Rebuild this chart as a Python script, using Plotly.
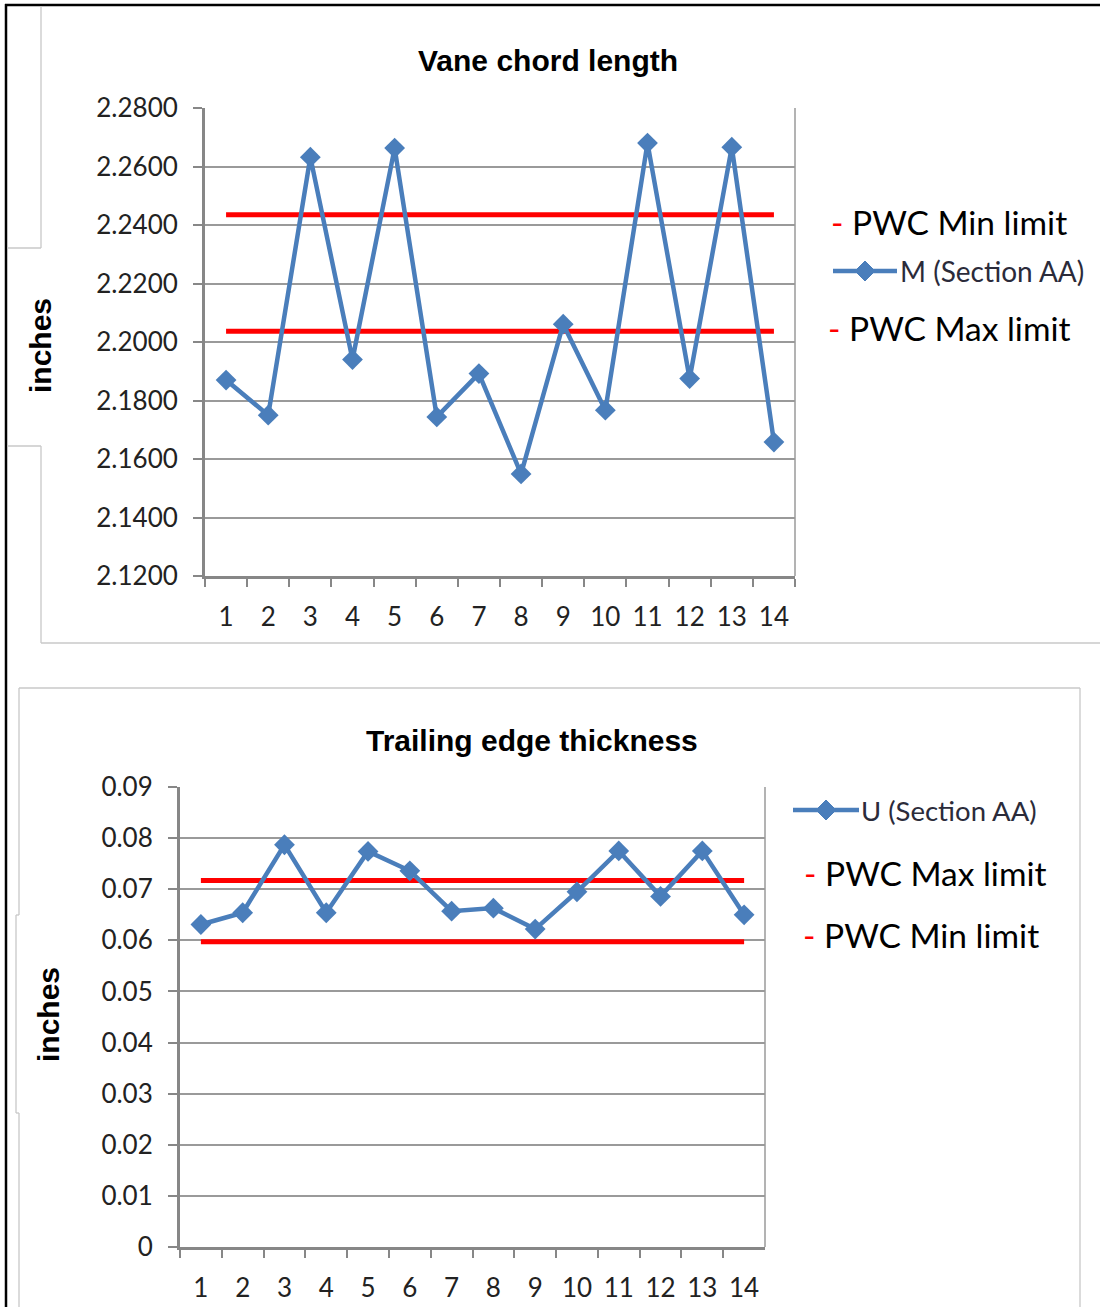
import plotly.graph_objects as go

W, H = 1100, 1307

# ---------------- data ----------------
samples = [str(i) for i in range(1, 15)]

chord_M = [2.1870, 2.1750, 2.2632, 2.1940, 2.2663, 2.1744, 2.1892,
           2.1549, 2.2061, 2.1767, 2.2680, 2.1875, 2.2666, 2.1658]
chord_min_limit = 2.2435
chord_max_limit = 2.2037
chord_ticks = [2.12, 2.14, 2.16, 2.18, 2.20, 2.22, 2.24, 2.26, 2.28]

te_U = [0.0631, 0.0654, 0.0787, 0.0654, 0.0774, 0.0736, 0.0657,
        0.0663, 0.0622, 0.0695, 0.0775, 0.0686, 0.0775, 0.0650]
te_max_limit = 0.0717
te_min_limit = 0.0597
te_ticks = [0, 0.01, 0.02, 0.03, 0.04, 0.05, 0.06, 0.07, 0.08, 0.09]
te_ticktext = ["0", "0.01", "0.02", "0.03", "0.04", "0.05", "0.06", "0.07", "0.08", "0.09"]

# ---------------- styles ----------------
BLUE = "#4a7ebb"
RED = "#ff0000"
GRID = "#9a9a9a"
AXIS = "#878787"
TXT = "#222222"
TICKFONT = dict(family="Lato", size=26, color=TXT)


def px(x):
    return x / W


def py(y):
    return 1 - y / H


fig = go.Figure()

# top chart (x, y)
fig.add_trace(go.Scatter(x=samples, y=[chord_min_limit] * len(samples), mode="lines",
                         line=dict(color=RED, width=5), xaxis="x", yaxis="y",
                         showlegend=False, name="PWC Min limit"))
fig.add_trace(go.Scatter(x=samples, y=[chord_max_limit] * len(samples), mode="lines",
                         line=dict(color=RED, width=5), xaxis="x", yaxis="y",
                         showlegend=False, name="PWC Max limit"))
fig.add_trace(go.Scatter(x=samples, y=chord_M, mode="lines+markers",
                         line=dict(color=BLUE, width=4.5),
                         marker=dict(symbol="diamond", size=16, color=BLUE),
                         xaxis="x", yaxis="y", showlegend=False, name="M (Section AA)"))

# bottom chart (x2, y2)
fig.add_trace(go.Scatter(x=samples, y=[te_max_limit] * len(samples), mode="lines",
                         line=dict(color=RED, width=5), xaxis="x2", yaxis="y2",
                         showlegend=False, name="PWC Max limit"))
fig.add_trace(go.Scatter(x=samples, y=[te_min_limit] * len(samples), mode="lines",
                         line=dict(color=RED, width=5), xaxis="x2", yaxis="y2",
                         showlegend=False, name="PWC Min limit"))
fig.add_trace(go.Scatter(x=samples, y=te_U, mode="lines+markers",
                         line=dict(color=BLUE, width=4.5),
                         marker=dict(symbol="diamond", size=16, color=BLUE),
                         xaxis="x2", yaxis="y2", showlegend=False, name="U (Section AA)"))

xcommon = dict(type="category", tickson="boundaries", ticks="outside", ticklen=8,
               tickwidth=2, tickcolor=AXIS, showline=True, linecolor=AXIS, linewidth=3,
               showgrid=False, tickfont=TICKFONT, ticklabelstandoff=16, zeroline=False,
               fixedrange=True, tickangle=0, automargin=False,
               range=[-0.5, len(samples) - 0.5], autorange=False)
ycommon = dict(ticks="outside", ticklen=9, tickwidth=2, tickcolor=AXIS, showline=True,
               linecolor=AXIS, linewidth=3, showgrid=True, gridcolor=GRID, gridwidth=2,
               tickfont=TICKFONT, zeroline=False, ticklabelstandoff=10, fixedrange=True,
               automargin=False)

fig.update_layout(
    template="none",
    width=W, height=H, autosize=False,
    margin=dict(l=0, r=0, t=0, b=0, pad=0, autoexpand=False),
    paper_bgcolor="white", plot_bgcolor="white",
    showlegend=False,
    xaxis=dict(domain=[px(205), px(795)], anchor="y", **xcommon),
    yaxis=dict(domain=[py(576), py(108)], anchor="x", range=[2.12, 2.28],
               tickvals=chord_ticks, tickformat=".4f", **ycommon),
    xaxis2=dict(domain=[px(180), px(765)], anchor="y2", **xcommon),
    yaxis2=dict(domain=[py(1247), py(787)], anchor="x2", range=[0, 0.09],
                tickvals=te_ticks, ticktext=te_ticktext, **ycommon),
)

shapes = []
# plot-area right borders
for xr in ["x", "x2"]:
    yr = "y" if xr == "x" else "y2"
    shapes.append(dict(type="line", xref=f"{xr} domain", yref=f"{yr} domain",
                       x0=1, x1=1, y0=0, y1=1, line=dict(color=GRID, width=1.5)))

# outer frame (black)
shapes.append(dict(type="line", xref="paper", yref="paper", x0=px(6), x1=px(6),
                   y0=py(4), y1=0, line=dict(color="black", width=2.5)))
shapes.append(dict(type="line", xref="paper", yref="paper", x0=px(5), x1=1,
                   y0=py(5), y1=py(5), line=dict(color="black", width=2.5)))

# chart-area boxes (light grey)
LG = "#c8c8c8"
def seg(x0, y0, x1, y1, w=1.3):
    shapes.append(dict(type="line", xref="paper", yref="paper", x0=px(x0), x1=px(x1),
                       y0=py(y0), y1=py(y1), line=dict(color=LG, width=w)))

seg(41, 6, 41, 248)
seg(7, 248, 41, 248)
seg(7, 446, 41, 446)
seg(41, 446, 41, 643)
seg(41, 643, 1100, 643)
seg(19, 688, 1080, 688)
seg(1080, 688, 1080, 1307)
seg(19, 688, 19, 915)
seg(16, 915, 19, 915)
seg(16, 915, 16, 1113)
seg(16, 1113, 19, 1113)
seg(19, 1113, 19, 1307)


# legend glyphs: line with diamond
def legend_glyph(x0, x1, y):
    shapes.append(dict(type="line", xref="paper", yref="paper", x0=px(x0), x1=px(x1),
                       y0=py(y), y1=py(y), line=dict(color=BLUE, width=4.5)))
    cx = (x0 + x1) / 2
    r = 10
    path = (f"M {px(cx - r)},{py(y)} L {px(cx)},{py(y - r)} L {px(cx + r)},{py(y)} "
            f"L {px(cx)},{py(y + r)} Z")
    shapes.append(dict(type="path", xref="paper", yref="paper", path=path,
                       fillcolor=BLUE, line=dict(color=BLUE, width=1)))

legend_glyph(833, 897, 271)
legend_glyph(793, 859, 810)

fig.update_layout(shapes=shapes)

ann = []
def text(x, y, s, size, color=TXT, family="Lato", xanchor="left", angle=0, bold=False):
    ann.append(dict(x=px(x), y=py(y), xref="paper", yref="paper", text=(f"<b>{s}</b>" if bold else s),
                    showarrow=False, xanchor=xanchor, yanchor="middle", textangle=angle,
                    font=dict(family=family, size=size, color=color)))

# titles
text(548, 61, "Vane chord length", 30, color="black", family="Liberation Sans", xanchor="center", bold=True)
text(532, 740, "Trailing edge thickness", 30, color="black", family="Liberation Sans", xanchor="center", bold=True)
# y-axis titles
text(40, 346, "inches", 30, color="black", family="Liberation Sans", xanchor="center", angle=-90, bold=True)
text(48, 1015, "inches", 30, color="black", family="Liberation Sans", xanchor="center", angle=-90, bold=True)

# top legend
text(829, 222, "<span style='color:#ff0000'>-</span> PWC Min limit", 33.5, color="black")
text(898, 271, "M (Section AA)", 28, color="#2b2b3a")
text(826, 328, "<span style='color:#ff0000'>-</span> PWC Max limit", 33.5, color="black")
# bottom legend
text(859, 810, "U (Section AA)", 27.5, color="#2b2b3a")
text(802, 873, "<span style='color:#ff0000'>-</span> PWC Max limit", 33.5, color="black")
text(801, 935, "<span style='color:#ff0000'>-</span> PWC Min limit", 33.5, color="black")

fig.update_layout(annotations=ann)

fig.write_html("out.html", config={"responsive": False, "displayModeBar": False},
               post_script="document.body.style.margin='0';document.body.style.padding='0';")
